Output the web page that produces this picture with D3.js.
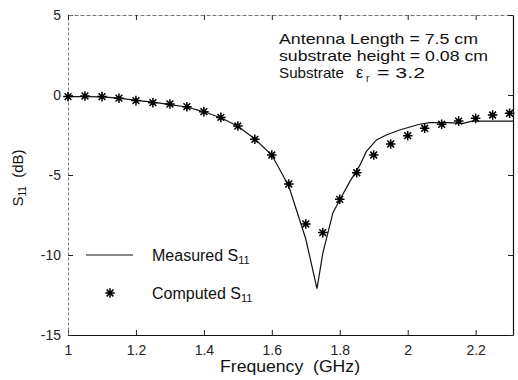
<!DOCTYPE html>
<html>
<head>
<meta charset="utf-8">
<script src="https://cdn.jsdelivr.net/npm/d3@7"></script>
<style>
body { margin: 0; background: #fff; }
text { font-family: "Liberation Sans", Arial, sans-serif; fill: #111; white-space: pre; }
</style>
</head>
<body>
<div id="chart"></div>
<script>
var width = 518;
var height = 380;
var margin = {top: 15, right: 5, bottom: 45, left: 68};

// measured S11 (solid line)
var measuredFreq = [1.00, 1.05, 1.10, 1.15, 1.20, 1.25, 1.30, 1.35, 1.40, 1.45, 1.50,
                    1.55, 1.60, 1.65, 1.70, 1.733, 1.75, 1.78, 1.80, 1.83, 1.859,
                    1.878, 1.908, 1.937, 1.976, 2.035, 2.065, 2.114, 2.163, 2.19, 2.31];
var measuredS11 = [-0.1, -0.1, -0.12, -0.2, -0.33, -0.45, -0.6, -0.75, -1.05, -1.42, -1.95,
                   -2.75, -3.75, -5.7, -9.0, -12.1, -9.9, -7.35, -6.56, -5.4, -4.4,
                   -3.54, -2.81, -2.5, -2.19, -1.83, -1.73, -1.73, -1.77, -1.63, -1.63];

// computed S11 (stars)
var computedFreq = [1.00, 1.05, 1.10, 1.15, 1.20, 1.25, 1.30, 1.35, 1.40, 1.45, 1.50,
                    1.55, 1.60, 1.65, 1.70, 1.75, 1.80, 1.85, 1.90, 1.95, 2.00,
                    2.05, 2.10, 2.15, 2.20, 2.25, 2.30];
var computedS11 = [-0.1, -0.06, -0.1, -0.2, -0.35, -0.48, -0.56, -0.73, -1.04, -1.4, -1.94,
                   -2.77, -3.75, -5.56, -8.06, -8.6, -6.52, -4.86, -3.75, -3.06, -2.54,
                   -2.08, -1.83, -1.63, -1.46, -1.25, -1.14];

var xTicks = [1, 1.2, 1.4, 1.6, 1.8, 2, 2.2];
var yTicks = [5, 0, -5, -10, -15];

var svg = d3.select('#chart').append('svg')
    .attr('width', width)
    .attr('height', height);

var x = d3.scaleLinear()
    .domain([1, 2.31])
    .range([margin.left, width - margin.right]);

var y = d3.scaleLinear()
    .domain([-15, 5])
    .range([height - margin.bottom, margin.top]);

function fmt(d) { return String(d); }

var font = '"Liberation Sans", Arial, sans-serif';

// axes, ticks pointing inward
var xAxis = svg.append('g')
    .attr('transform', 'translate(0,' + y(-15) + ')')
    .call(d3.axisBottom(x).tickValues(xTicks).tickSizeInner(-5).tickSizeOuter(0)
        .tickPadding(10).tickFormat(fmt));

var yAxis = svg.append('g')
    .attr('transform', 'translate(' + x(1) + ',0)')
    .call(d3.axisLeft(y).tickValues(yTicks).tickSizeInner(-5).tickSizeOuter(0)
        .tickPadding(7).tickFormat(fmt));

var topAxis = svg.append('g')
    .attr('transform', 'translate(0,' + y(5) + ')')
    .call(d3.axisTop(x).tickValues(xTicks).tickSizeInner(-5).tickSizeOuter(0).tickFormat(''));

var rightAxis = svg.append('g')
    .attr('transform', 'translate(' + x(2.31) + ',0)')
    .call(d3.axisRight(y).tickValues(yTicks).tickSizeInner(-5).tickSizeOuter(0).tickFormat(''));

[xAxis, yAxis, topAxis, rightAxis].forEach(function(g) {
    g.attr('font-family', font).attr('font-size', 14);
    g.selectAll('text').style('fill', '#222');
    g.selectAll('line').attr('stroke', '#222');
});
xAxis.select('.domain').attr('stroke', '#111').attr('stroke-width', 1.2);
rightAxis.select('.domain').attr('stroke', '#111').attr('stroke-width', 1.2);
yAxis.select('.domain').attr('stroke', '#777').attr('stroke-dasharray', '3,2');
topAxis.select('.domain').attr('stroke', '#777').attr('stroke-dasharray', '4,2');

// measured line
var line = d3.line()
    .x(function(d) { return x(d[0]); })
    .y(function(d) { return y(d[1]); });

svg.append('path')
    .datum(d3.zip(measuredFreq, measuredS11))
    .attr('d', line)
    .attr('fill', 'none')
    .attr('stroke', '#111')
    .attr('stroke-width', 1.2);

// star marker
var s = 4.8, k = s * 0.707;
var starPath = 'M' + (-s) + ',0L' + s + ',0M0,' + (-s) + 'L0,' + s +
    'M' + (-k) + ',' + (-k) + 'L' + k + ',' + k +
    'M' + (-k) + ',' + k + 'L' + k + ',' + (-k);

function star(sel) {
    sel.append('path').attr('d', starPath)
        .attr('stroke', '#000').attr('stroke-width', 1.5).attr('fill', 'none');
    sel.append('circle').attr('r', 2.2).attr('fill', '#000');
}

svg.append('g').selectAll('g')
    .data(d3.zip(computedFreq, computedS11))
    .enter().append('g')
        .attr('transform', function(d) { return 'translate(' + x(d[0]) + ',' + y(d[1]) + ')'; })
        .call(star);

// axis titles
svg.append('text')
    .attr('x', 290).attr('y', 372)
    .attr('text-anchor', 'middle')
    .attr('font-size', 16)
    .attr('textLength', 140).attr('lengthAdjust', 'spacingAndGlyphs')
    .text('Frequency  (GHz)');

var yl = svg.append('text')
    .attr('transform', 'translate(23,178) rotate(-90)')
    .attr('text-anchor', 'middle')
    .attr('font-size', 15);
yl.append('tspan').text('S');
yl.append('tspan').attr('font-size', 10).attr('dy', 3).text('11');
yl.append('tspan').attr('dy', -3).text('  (dB)');

// annotation
svg.append('text').attr('x', 279).attr('y', 44).attr('font-size', 15)
    .attr('textLength', 199).attr('lengthAdjust', 'spacingAndGlyphs')
    .text('Antenna Length = 7.5 cm');
svg.append('text').attr('x', 279).attr('y', 61).attr('font-size', 15)
    .attr('textLength', 209).attr('lengthAdjust', 'spacingAndGlyphs')
    .text('substrate height = 0.08 cm');
svg.append('text').attr('x', 279).attr('y', 78).attr('font-size', 15)
    .attr('textLength', 65).attr('lengthAdjust', 'spacingAndGlyphs')
    .text('Substrate');
svg.append('text').attr('x', 356).attr('y', 78).attr('font-size', 16)
    .text('\u03b5');
svg.append('text').attr('x', 366).attr('y', 82).attr('font-size', 10)
    .text('r');
svg.append('text').attr('x', 377).attr('y', 78).attr('font-size', 15)
    .attr('textLength', 48).attr('lengthAdjust', 'spacingAndGlyphs')
    .text('= 3.2');

// legend
var legend = svg.append('g');
legend.append('line')
    .attr('x1', 86).attr('x2', 133)
    .attr('y1', y(-10)).attr('y2', y(-10))
    .attr('stroke', '#111').attr('stroke-width', 1.2);
legend.append('g')
    .attr('transform', 'translate(110,' + (y(-10) + 38) + ')')
    .call(star);

function legendText(label, yy) {
    var t = legend.append('text').attr('x', 152).attr('y', yy).attr('font-size', 16);
    t.append('tspan').text(label + ' S');
    t.append('tspan').attr('font-size', 11).attr('dy', 3).text('11');
}
legendText('Measured', y(-10) + 6);
legendText('Computed', y(-10) + 44);
</script>
</body>
</html>
